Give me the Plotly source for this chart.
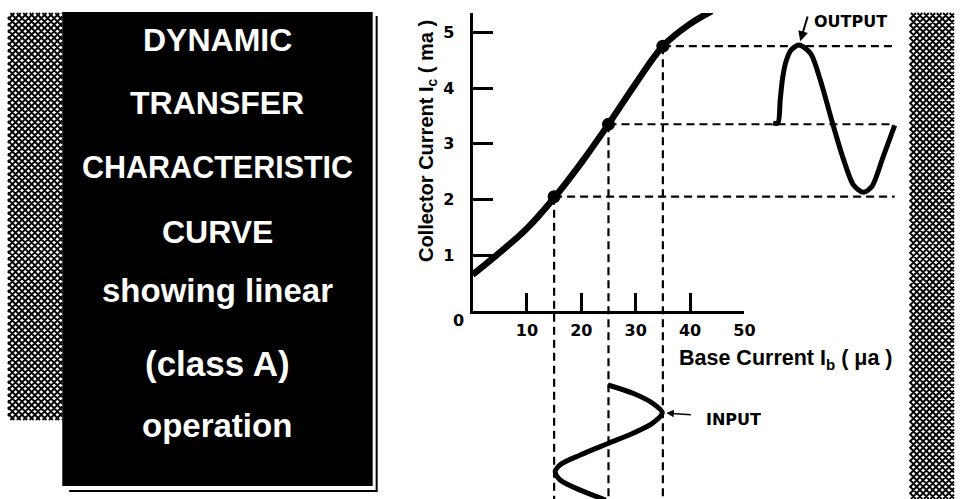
import plotly.graph_objects as go

# ---- data ----
ib_curve = [0, 5, 10, 15, 20, 25, 30, 35, 40, 44]
ic_curve = [0.65, 1.05, 1.48, 2.03, 2.66, 3.35, 4.08, 4.75, 5.15, 5.38]

ib_points = [15, 25, 35]
ic_points = [2.05, 3.35, 4.75]

# output waveform (phase in degrees, collector current in ma)
out_t = [0, 14, 21, 28, 38, 53, 77, 111, 140, 175, 209, 238, 267, 292, 326, 360]
out_ic = [3.37, 3.37, 3.78, 4.17, 4.47, 4.68, 4.77, 4.62, 4.14, 3.39, 2.71, 2.26, 2.13, 2.23, 2.77, 3.33]

# input waveform (phase in degrees, base current in ua)
in_t = [0, 26, 57, 87, 120, 151, 183, 219, 250, 271, 297, 329, 360]
in_ib = [24.9, 29.5, 33.1, 34.9, 33.1, 29.5, 24.9, 19.8, 16.1, 15.2, 16.1, 19.8, 24.5]

ib_ticks = [10, 20, 30, 40, 50]
ic_ticks = [1, 2, 3, 4, 5]

title_lines = ["DYNAMIC", "TRANSFER", "CHARACTERISTIC", "CURVE",
               "showing linear", "(class A)", "operation"]

# ---- geometry (pixels) ----
W, H = 965, 499
X0, PX_IB = 478, 5.5      # pixel of Ib=0, pixels per ua
Y0, PX_IC = 311, 55.75    # pixel of Ic=0, pixels per ma


def fx(px):
    return px / W


def fy(py):
    return 1 - py / H


BOLD = "DejaVu Sans"
NARROW = "Liberation Sans"

fig = go.Figure()

# dashed projection lines (overlay axes in Ib / Ic units)
ib_right = (905 - X0) / PX_IB
ic_bottom = (Y0 - H) / PX_IC
hx, hy, vx, vy = [], [], [], []
for ib, ic in zip(ib_points, ic_points):
    hx += [ib, ib_right, None]
    hy += [ic, ic, None]
    vx += [ib, ib, None]
    vy += [ic, ic_bottom, None]
fig.add_trace(go.Scatter(x=hx + vx, y=hy + vy, mode="lines", xaxis="x2", yaxis="y2",
                         line=dict(color="black", width=2.2, dash="8px,5px"),
                         hoverinfo="skip"))

# transfer characteristic
fig.add_trace(go.Scatter(x=ib_curve, y=ic_curve, mode="lines",
                         line=dict(color="black", width=6.5, shape="spline")))
fig.add_trace(go.Scatter(x=ib_points, y=ic_points, mode="markers", cliponaxis=False,
                         marker=dict(color="black", size=13)))

# output waveform
fig.add_trace(go.Scatter(x=out_t, y=out_ic, mode="lines", xaxis="x3", yaxis="y3",
                         line=dict(color="black", width=5, shape="spline", smoothing=0.8)))

# input waveform
fig.add_trace(go.Scatter(x=in_ib, y=in_t, mode="lines", xaxis="x4", yaxis="y4",
                         line=dict(color="black", width=5, shape="spline", smoothing=0.9)))


# ---- decorations ----
def hatch_path(x0, y0, x1, y1, step):
    segs = []
    c = x0 - y1
    while c <= x1 - y0:
        xa, xb = max(x0, y0 + c), min(x1, y1 + c)
        if xa < xb:
            segs.append((xa, xa - c, xb, xb - c))
        c += step
    c = x0 + y0
    while c <= x1 + y1:
        xa, xb = max(x0, c - y1), min(x1, c - y0)
        if xa < xb:
            segs.append((xa, c - xa, xb, c - xb))
        c += step
    return " ".join(f"M{fx(a):.5f},{fy(b):.5f}L{fx(p):.5f},{fy(q):.5f}" for a, b, p, q in segs)


shapes = [
    dict(type="path", xref="paper", yref="paper", path=hatch_path(8, 13, 63, 420, 6.5),
         line=dict(color="black", width=1.8)),
    dict(type="path", xref="paper", yref="paper", path=hatch_path(920, 13, 965, 499, 6.5),
         line=dict(color="black", width=1.8)),
    dict(type="rect", xref="paper", yref="paper", x0=fx(63), x1=fx(377), y0=fy(486), y1=fy(12),
         fillcolor="black", line=dict(width=0)),
    dict(type="line", xref="paper", yref="paper", x0=fx(381), x1=fx(381), y0=fy(491), y1=fy(16),
         line=dict(color="black", width=2)),
    dict(type="line", xref="paper", yref="paper", x0=fx(70), x1=fx(382), y0=fy(491), y1=fy(491),
         line=dict(color="black", width=2)),
]


def label(text, px, py, size, family=BOLD, color="black", **kw):
    return dict(text=text, xref="paper", yref="paper", x=fx(px), y=fy(py),
                xanchor="center", yanchor="middle", showarrow=False,
                font=dict(family=family, size=size, color=color, weight="bold"), **kw)


annotations = []
title_y = [40, 103, 167, 232, 290, 363, 425]
title_size = [32, 32, 30.5, 32, 33, 35, 33]
for txt, py, sz in zip(title_lines, title_y, title_size):
    annotations.append(label(txt, 220, py, sz, family=NARROW, color="white"))

annotations += [
    label("0", 464, 320, 16),
    label("Collector Current I<sub>c</sub> ( ma )", 433, 141, 20, family=NARROW, textangle=-90),
    label("Base Current I<sub>b</sub> ( μa )", 795, 359, 21.5, family=NARROW),
    label("OUTPUT", 860, 21, 16),
    label("INPUT", 742, 419, 16),
    dict(text="", xref="x3", yref="y3", x=out_t[6], y=out_ic[6], showarrow=True,
         ax=9, ay=-30, arrowhead=2, arrowsize=1, arrowwidth=2, standoff=4, arrowcolor="black"),
    dict(text="", xref="x4", yref="y4", x=in_ib[3], y=in_t[3], showarrow=True,
         ax=30, ay=2, arrowhead=2, arrowsize=1, arrowwidth=1.5, standoff=4, arrowcolor="black"),
]

tickfont = dict(family=BOLD, size=16, color="black", weight="bold")
out_scale = (905 - 782) / 360
in_scale = 115 / 360

fig.update_layout(
    width=W, height=H, autosize=False,
    margin=dict(l=0, r=0, t=0, b=0),
    paper_bgcolor="white", plot_bgcolor="rgba(0,0,0,0)",
    showlegend=False, hovermode=False,
    shapes=shapes, annotations=annotations,
    xaxis=dict(domain=[fx(X0), fx(X0 + 50 * PX_IB)], range=[0, 50], anchor="y",
               showline=True, linewidth=3, linecolor="black", showgrid=False, zeroline=False,
               ticks="inside", ticklen=18, tickwidth=3, tickcolor="black",
               tickvals=ib_ticks, tickfont=tickfont, ticklabelstandoff=3, fixedrange=True),
    yaxis=dict(domain=[fy(Y0), fy(13)], range=[0, (Y0 - 13) / PX_IC], anchor="x",
               showline=True, linewidth=3, linecolor="black", showgrid=False, zeroline=False,
               ticks="inside", ticklen=20, tickwidth=3, tickcolor="black",
               tickvals=ic_ticks, tickfont=tickfont, ticklabelstandoff=12, fixedrange=True),
    xaxis2=dict(domain=[fx(X0), 1], range=[0, (W - X0) / PX_IB], anchor="y2", visible=False),
    yaxis2=dict(domain=[0, 1], range=[(Y0 - H) / PX_IC, Y0 / PX_IC], anchor="x2", visible=False),
    xaxis3=dict(domain=[fx(770), fx(915)], range=[-12 / out_scale, 360 + 10 / out_scale],
                anchor="y3", visible=False),
    yaxis3=dict(domain=[0, 1], range=[(Y0 - H) / PX_IC, Y0 / PX_IC], anchor="x3", visible=False),
    xaxis4=dict(domain=[fx(X0), 1], range=[0, (W - X0) / PX_IB], anchor="y4", visible=False),
    yaxis4=dict(domain=[0, fy(375)], range=[(H - 385) / in_scale, (375 - 385) / in_scale],
                anchor="x4", visible=False),
)

# the page body has a default 8px margin; drop it so the figure fills the window
fig.write_html("out.html", config={"displayModeBar": False},
               post_script="document.body.style.margin = '0';")
